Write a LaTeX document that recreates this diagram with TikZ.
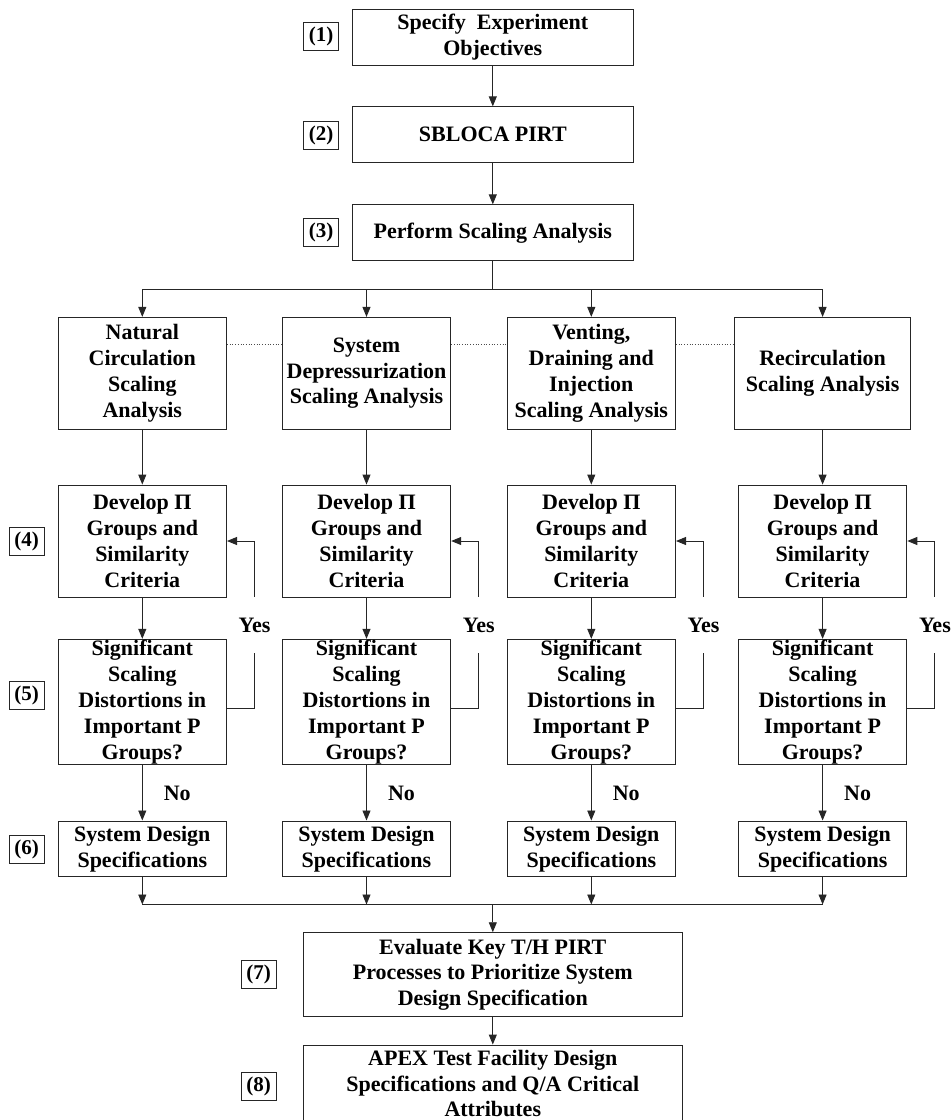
\documentclass[tikz,border=0pt]{standalone}
\usepackage{fontspec}
\setmainfont{Liberation Serif}
\usetikzlibrary{arrows.meta,calc}
\begin{document}
\begin{tikzpicture}[x=1pt,y=-1pt,
  box/.style={draw=black!85, line width=0.9pt, inner sep=0pt, align=center,
    font=\bfseries\fontsize{22}{25.9}\selectfont},
  colbox/.style={box, minimum width=168.5pt},
  tag/.style={draw=black!85, line width=0.9pt, inner sep=0pt, minimum width=35pt,
    minimum height=28pt, font=\bfseries\fontsize{21}{25}\selectfont},
  lbl/.style={inner sep=0pt, font=\bfseries\fontsize{22}{25.9}\selectfont},
  arr/.style={draw=black!85, line width=0.9pt, -{Triangle[length=10pt,width=8pt]}},
  ln/.style={draw=black!85, line width=0.9pt},
  dots/.style={draw=black!70, line width=0.7pt, dotted},
]
\useasboundingbox (0,0) rectangle (951,1120);

% helper coordinates (levels)
\coordinate (bus1) at (0,289);
\coordinate (bus2) at (0,904.5);
\coordinate (dl) at (0,344.3);
\coordinate (fbA) at (0,708.3);

% top chain
\node[box, minimum width=281pt, minimum height=56pt] (s1) at (492.8,37) {Specify\ \ Experiment\\Objectives};
\node[box, minimum width=281pt, minimum height=56pt] (s2) at (492.8,134.8) {SBLOCA PIRT};
\node[box, minimum width=281pt, minimum height=56pt] (s3) at (492.8,232.8) {Perform Scaling Analysis};

\node[tag] (t1) at (321,36.8) {(1)};
\node[tag] (t2) at (321,135) {(2)};
\node[tag] (t3) at (321,232.8) {(3)};

% analysis boxes
\node[colbox, minimum height=111.7pt] (a1) at (142.3,373.2) {Natural\\Circulation\\Scaling\\Analysis};
\node[colbox, minimum height=111.7pt] (a2) at (366.5,373.2) {System\\Depressurization\\Scaling Analysis};
\node[colbox, minimum height=111.7pt] (a3) at (591.3,373.2) {Venting,\\Draining and\\Injection\\Scaling Analysis};
\node[box, minimum width=175.6pt, minimum height=111.7pt] (a4) at (822.6,373.2) {Recirculation\\Scaling Analysis};

% repeated column boxes
\foreach \i/\x in {1/142.3,2/366.5,3/591.3,4/822.6}{
  \node[colbox, minimum height=112pt] (d\i) at (\x,541) {Develop Π\\Groups and\\Similarity\\Criteria};
  \node[colbox, minimum height=125pt] (g\i) at (\x,701.8) {Significant\\Scaling\\Distortions in\\Important P\\Groups?};
  \node[colbox, minimum height=55.7pt] (p\i) at (\x,848.8) {System Design\\Specifications};
  \node[lbl, minimum height=56pt] (y\i) at ($(\x,625)+(112.3,0)$) {Yes};
  \node[lbl] (n\i) at ($(\x,793.3)+(35,0)$) {No};
}

\node[tag] (t4) at (26.5,541.3) {(4)};
\node[tag] (t5) at (26.5,695.5) {(5)};
\node[tag] (t6) at (26.5,849.2) {(6)};

% bottom boxes
\node[box, minimum width=379pt, minimum height=84pt] (e7) at (492.8,974.7) {Evaluate Key T/H PIRT\\Processes to Prioritize System\\Design Specification};
\node[box, minimum width=379pt, minimum height=77pt] (e8) at (492.8,1083.5) {APEX Test Facility Design\\Specifications and Q/A Critical\\Attributes};
\node[tag] (t7) at (258.5,974.8) {(7)};
\node[tag] (t8) at (258.5,1086.8) {(8)};

% connectors
\draw[arr] (s1) -- (s2);
\draw[arr] (s2) -- (s3);
\draw[ln] (s3.south) -- (s3.south |- bus1);
\draw[ln] (a1.north |- bus1) -- (a4.north |- bus1);
\foreach \i in {1,2,3,4}{
  \draw[arr] (a\i.north |- bus1) -- (a\i.north);
  \draw[arr] (a\i) -- (d\i);
  \draw[arr] (d\i) -- (g\i);
  \draw[arr] (g\i) -- (p\i);
  \draw[ln] (g\i.east |- fbA) -| (y\i.south);
  \draw[arr] (y\i.north) |- (d\i.east);
  \draw[arr] (p\i.south) -- (p\i.south |- bus2);
}
\draw[dots] (a1.east |- dl) -- (a2.west |- dl);
\draw[dots] (a2.east |- dl) -- (a3.west |- dl);
\draw[dots] (a3.east |- dl) -- (a4.west |- dl);
\draw[ln] (p1.south |- bus2) -- (p4.south |- bus2);
\draw[arr] (e7.north |- bus2) -- (e7.north);
\draw[arr] (e7) -- (e8);
\end{tikzpicture}
\end{document}
